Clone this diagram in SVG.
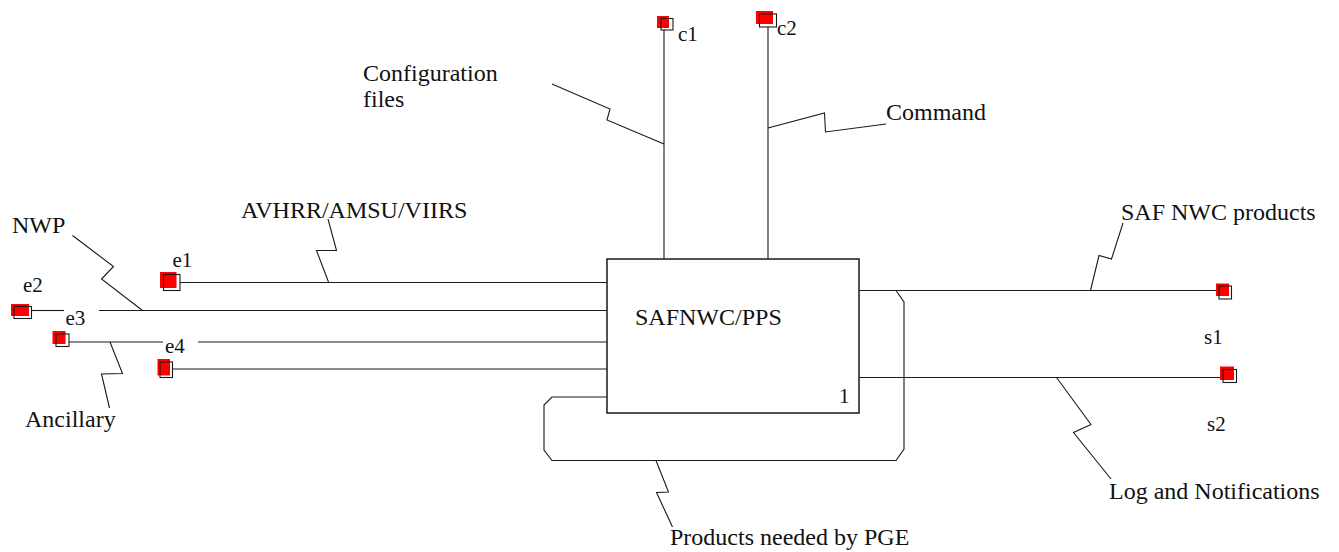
<svg xmlns="http://www.w3.org/2000/svg" width="1339" height="552" viewBox="0 0 1339 552">
<style>
  .ln { fill: none; stroke: #1a1a1a; stroke-width: 1.1; }
  .box { fill: #fff; stroke: #1a1a1a; stroke-width: 1.5; }
  .red { fill: #ff0000; stroke: none; }
  .out { fill: none; stroke: #1a1a1a; stroke-width: 1.1; }
  .big { font-family: "Liberation Serif", "Times New Roman", serif; font-size: 24px; fill: #111; }
  .sm { font-family: "Liberation Serif", "Times New Roman", serif; font-size: 21px; fill: #111; }
</style>
<rect width="1339" height="552" fill="#fff"/>

<g id="connectors">
  <!-- top inputs -->
  <line class="ln" x1="664" y1="30" x2="664" y2="259"/>
  <line class="ln" x1="768" y1="27" x2="768" y2="259"/>
  <!-- left inputs -->
  <line class="ln" x1="180" y1="282.5" x2="607" y2="282.5"/>
  <line class="ln" x1="32" y1="310.5" x2="64" y2="310.5"/>
  <line class="ln" x1="99" y1="310.5" x2="607" y2="310.5"/>
  <line class="ln" x1="69" y1="342" x2="163" y2="342"/>
  <line class="ln" x1="198" y1="342" x2="607" y2="342"/>
  <line class="ln" x1="172" y1="369" x2="607" y2="369"/>
  <!-- right outputs -->
  <line class="ln" x1="859" y1="290.5" x2="1219" y2="290.5"/>
  <line class="ln" x1="859" y1="377.5" x2="1223" y2="377.5"/>
  <!-- feedback loop -->
  <path class="ln" d="M896 290.5 L904 302 L904 449 L896 460.5 L552 460.5 L544 450 L544 405 L552 397 L607 397"/>
  <!-- label leaders -->
  <path class="ln" d="M552 84 L610 109 L607 120 L664 144"/>
  <path class="ln" d="M768 128 L824.5 113 L825.5 132 L886 124"/>
  <path class="ln" d="M328 219 L336.5 250.5 L316.5 250.5 L328.5 282"/>
  <path class="ln" d="M72.5 235.5 L113.5 266.5 L101.5 279 L142.5 310.5"/>
  <path class="ln" d="M110 342 L122.5 373.5 L101.5 374 L109.5 408"/>
  <path class="ln" d="M1090.5 290.5 L1099 255.5 L1111.5 259 L1123 223"/>
  <path class="ln" d="M1056.5 377.5 L1091 424.5 L1073.5 432.5 L1111 479"/>
  <path class="ln" d="M656 460.5 L668.5 492 L656.5 492.5 L672.5 527"/>
  <text class="big" x="363" y="81">Configuration</text>
  <text class="big" x="363" y="107">files</text>
  <text class="big" x="886" y="119.5">Command</text>
  <text class="big" x="241" y="217.5">AVHRR/AMSU/VIIRS</text>
  <text class="big" x="12" y="233">NWP</text>
  <text class="big" x="25" y="426.5">Ancillary</text>
  <text class="big" x="1121" y="220">SAF NWC products</text>
  <text class="big" x="1109" y="499">Log and Notifications</text>
  <text class="big" x="670" y="545">Products needed by PGE</text>
</g>

<g id="node-pps">
  <rect class="box" x="607" y="259" width="252" height="154"/>
  <text class="big" x="635" y="325">SAFNWC/PPS</text>
  <text class="sm" x="839" y="403">1</text>
</g>

<g id="node-c1">
  <rect class="red" x="657" y="16" width="12" height="12"/>
  <rect class="out" x="661" y="18.5" width="12" height="11.5"/>
  <text class="sm" x="678" y="40.5">c1</text>
</g>
<g id="node-c2">
  <rect class="red" x="756" y="11" width="17" height="13"/>
  <rect class="out" x="759.5" y="14" width="17" height="13"/>
  <text class="sm" x="777" y="35">c2</text>
</g>
<g id="node-e1">
  <rect class="red" x="160" y="272" width="16.5" height="16"/>
  <rect class="out" x="163.5" y="274.5" width="16.5" height="16"/>
  <text class="sm" x="172.5" y="266.5">e1</text>
</g>
<g id="node-e2">
  <rect class="red" x="11" y="304" width="18" height="12"/>
  <rect class="out" x="14" y="306.5" width="17.5" height="12"/>
  <text class="sm" x="23" y="292">e2</text>
</g>
<g id="node-e3">
  <rect class="red" x="52.5" y="331" width="13" height="13"/>
  <rect class="out" x="56" y="334" width="13" height="12.5"/>
  <text class="sm" x="65.5" y="325">e3</text>
</g>
<g id="node-e4">
  <rect class="red" x="157.5" y="359" width="12.5" height="16.5"/>
  <rect class="out" x="160" y="362" width="12.5" height="15.5"/>
  <text class="sm" x="165" y="352.5">e4</text>
</g>
<g id="node-s1">
  <rect class="red" x="1216" y="283.5" width="13" height="12.5"/>
  <rect class="out" x="1219" y="286" width="12.5" height="13"/>
  <text class="sm" x="1204" y="344">s1</text>
</g>
<g id="node-s2">
  <rect class="red" x="1220" y="366.5" width="14" height="13.5"/>
  <rect class="out" x="1223" y="369.5" width="13.5" height="13"/>
  <text class="sm" x="1207" y="430.5">s2</text>
</g>
</svg>
